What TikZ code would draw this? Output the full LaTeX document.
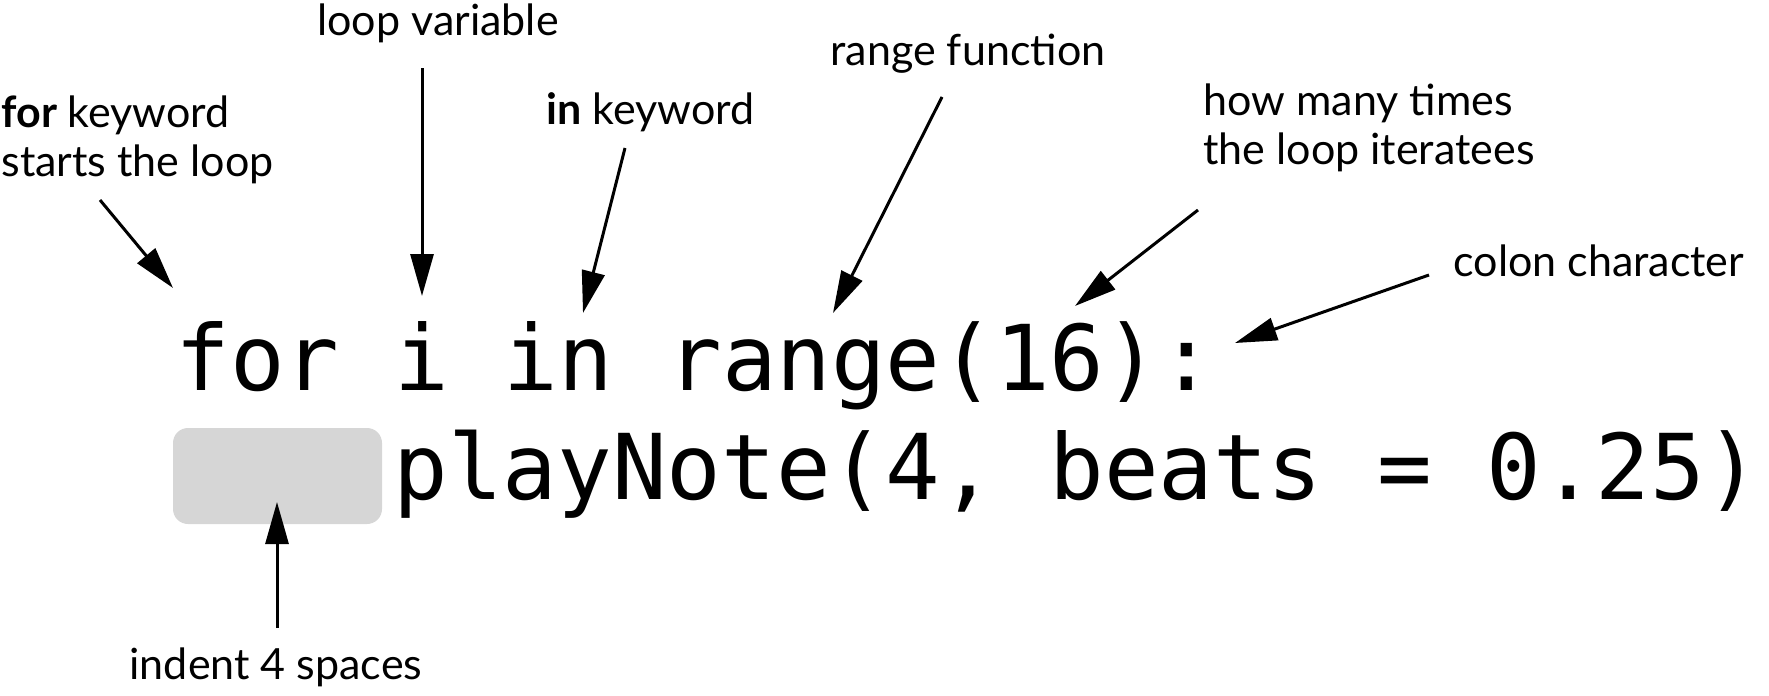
\documentclass[tikz,border=0pt]{standalone}
\usepackage{fontspec}
\setmainfont{Lato}
\newfontfamily\codefont{DejaVu Sans Mono}
\usepackage{xcolor}
\usetikzlibrary{arrows.meta}
\definecolor{ink}{HTML}{000000}
\definecolor{indentgray}{HTML}{D6D6D6}
\tikzset{
  pointer/.style={draw=ink, line width=1.5pt, -{Triangle[length=21pt,width=11.5pt]}},
  lab/.style={text=ink, inner sep=0pt, align=left, font=\fontsize{21.5}{24.5}\selectfont},
  code/.style={text=ink, inner sep=0pt, font=\codefont\fontsize{45.4}{54.5}\selectfont},
  indentbox/.style={fill=indentgray, rounded corners=7.5pt, minimum width=104.5pt, minimum height=48pt, inner sep=0pt},
}
\frenchspacing
\begin{document}
\begin{tikzpicture}[x=0.5pt, y=-0.5pt]
\useasboundingbox (0,0) rectangle (1769,696);

% the two code lines and the indent
\node[code, anchor=base west] (line1) at (175,390) {for i in range(16):};
\node[code, anchor=base west] (line2) at (393,499) {playNote(4, beats = 0.25)};
\node[indentbox] (indent) at (277.5,476) {};

% labels (two-line ones sit on their last line)
\node[lab, anchor=base west] (forkw) at (1,176) {\textbf{for} keyword\\starts the loop};
\node[lab, anchor=base] (loopvar) at (438,35) {loop variable};
\node[lab, anchor=base west] (inkw) at (546,124) {\textbf{in} keyword};
\node[lab, anchor=base] (rangefn) at (968,65) {range function};
\node[lab, anchor=base west] (howmany) at (1203,164) {how many times\\the loop iteratees};
\node[lab, anchor=base west] (colon) at (1453,276) {colon character};
\node[lab, anchor=base] (indentlab) at (276,679) {indent 4 spaces};

% where the arrows point
\coordinate (fortip) at (173,288);
\coordinate (looptip) at (422,296);
\coordinate (intip) at (583,313);
\coordinate (rangetip) at (833,313);
\coordinate (timestip) at (1075,306);
\coordinate (colontip) at (1235,343);
\coordinate (indenttip) at (277,502);

\draw[pointer] ([shift={(99,24)}]forkw.base west) -- (fortip);
\draw[pointer] ([shift={(-16,33)}]loopvar.base) -- (looptip);
\draw[pointer] ([shift={(79,24)}]inkw.base west) -- (intip);
\draw[pointer] ([shift={(-26,32)}]rangefn.base) -- (rangetip);
\draw[pointer] ([shift={(-5,46)}]howmany.base west) -- (timestip);
\draw[pointer] ([shift={(-24,-1)}]colon.base west) -- (colontip);
\draw[pointer] ([shift={(1,-51)}]indentlab.base) -- (indenttip);
\end{tikzpicture}
\end{document}
